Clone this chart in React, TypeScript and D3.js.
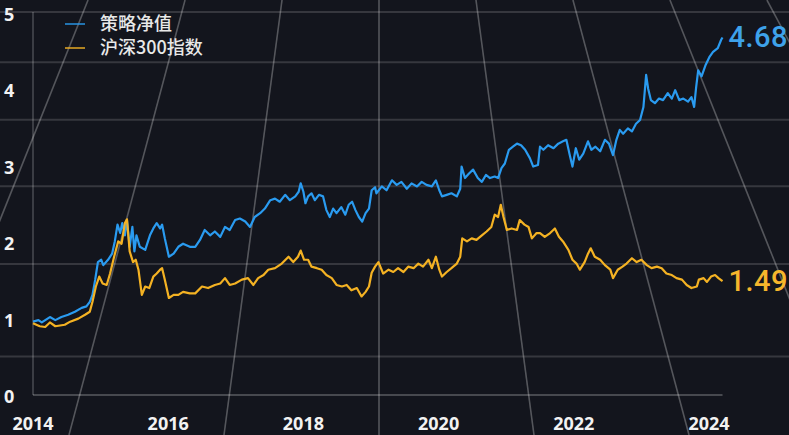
import * as d3 from 'd3';

// [year, value]
const strategy: [number, number][] = [
  [2014.00, 0.96], [2014.08, 0.98], [2014.13, 0.95], [2014.25, 1.02], [2014.33, 0.98], [2014.42, 1.02],
  [2014.52, 1.05], [2014.62, 1.09], [2014.72, 1.14], [2014.79, 1.16], [2014.84, 1.22], [2014.88, 1.31],
  [2014.92, 1.51], [2014.96, 1.74], [2015.01, 1.77], [2015.04, 1.70], [2015.11, 1.77], [2015.17, 1.85],
  [2015.21, 2.01], [2015.25, 2.23], [2015.29, 2.12], [2015.32, 2.25], [2015.36, 2.09], [2015.39, 2.29],
  [2015.43, 1.94], [2015.47, 2.20], [2015.50, 1.88], [2015.53, 2.09], [2015.58, 1.94], [2015.66, 1.90],
  [2015.73, 2.09], [2015.78, 2.18], [2015.83, 2.25], [2015.88, 2.18], [2015.91, 2.23], [2015.95, 2.05],
  [2016.01, 1.81], [2016.08, 1.85], [2016.15, 1.94], [2016.22, 1.98], [2016.32, 1.94], [2016.40, 1.94],
  [2016.47, 2.03], [2016.54, 2.16], [2016.62, 2.09], [2016.69, 2.14], [2016.77, 2.07], [2016.84, 2.20],
  [2016.91, 2.16], [2016.99, 2.29], [2017.06, 2.31], [2017.14, 2.27], [2017.21, 2.20], [2017.28, 2.33],
  [2017.36, 2.38], [2017.43, 2.44], [2017.51, 2.55], [2017.58, 2.57], [2017.65, 2.53], [2017.73, 2.62],
  [2017.80, 2.55], [2017.88, 2.60], [2017.93, 2.66], [2017.96, 2.77], [2018.00, 2.66], [2018.03, 2.51],
  [2018.07, 2.60], [2018.12, 2.64], [2018.17, 2.55], [2018.23, 2.62], [2018.29, 2.60], [2018.34, 2.42],
  [2018.39, 2.33], [2018.44, 2.44], [2018.49, 2.38], [2018.56, 2.46], [2018.62, 2.36], [2018.67, 2.49],
  [2018.72, 2.53], [2018.77, 2.42], [2018.82, 2.33], [2018.87, 2.27], [2018.92, 2.38], [2018.97, 2.44],
  [2019.01, 2.68], [2019.06, 2.72], [2019.08, 2.64], [2019.16, 2.73], [2019.23, 2.68], [2019.31, 2.81],
  [2019.38, 2.75], [2019.45, 2.79], [2019.53, 2.70], [2019.60, 2.77], [2019.68, 2.73], [2019.75, 2.79],
  [2019.82, 2.75], [2019.90, 2.73], [2019.96, 2.81], [2020.01, 2.68], [2020.05, 2.60], [2020.12, 2.62],
  [2020.19, 2.64], [2020.27, 2.60], [2020.32, 2.70], [2020.34, 2.99], [2020.39, 2.84], [2020.45, 2.90],
  [2020.51, 2.95], [2020.58, 2.84], [2020.64, 2.79], [2020.70, 2.88], [2020.76, 2.84], [2020.83, 2.86],
  [2020.88, 2.84], [2020.93, 2.97], [2020.98, 3.03], [2021.04, 3.21], [2021.10, 3.25], [2021.16, 3.29],
  [2021.22, 3.27], [2021.28, 3.21], [2021.35, 3.10], [2021.40, 2.99], [2021.47, 3.01], [2021.50, 3.25],
  [2021.55, 3.21], [2021.62, 3.27], [2021.70, 3.23], [2021.77, 3.29], [2021.84, 3.32], [2021.89, 3.34],
  [2021.94, 3.14], [2021.98, 2.99], [2022.03, 3.23], [2022.08, 3.08], [2022.14, 3.16], [2022.21, 3.32],
  [2022.26, 3.21], [2022.32, 3.25], [2022.39, 3.19], [2022.46, 3.34], [2022.52, 3.29], [2022.58, 3.14],
  [2022.63, 3.34], [2022.68, 3.47], [2022.73, 3.42], [2022.80, 3.49], [2022.86, 3.45], [2022.92, 3.55],
  [2022.98, 3.60], [2023.03, 3.77], [2023.07, 4.19], [2023.10, 4.01], [2023.14, 3.86], [2023.20, 3.82],
  [2023.26, 3.88], [2023.32, 3.86], [2023.39, 3.95], [2023.45, 3.88], [2023.50, 3.99], [2023.56, 3.86],
  [2023.62, 3.88], [2023.69, 3.84], [2023.74, 3.90], [2023.78, 3.77], [2023.81, 4.03], [2023.84, 4.25],
  [2023.89, 4.17], [2023.95, 4.32], [2024.01, 4.43], [2024.06, 4.49], [2024.13, 4.54], [2024.18, 4.65],
  [2024.20, 4.68],
];

const csi300: [number, number][] = [
  [2014.00, 0.94], [2014.10, 0.90], [2014.18, 0.89], [2014.25, 0.95], [2014.33, 0.90], [2014.47, 0.92],
  [2014.55, 0.96], [2014.67, 1.00], [2014.77, 1.05], [2014.84, 1.09], [2014.88, 1.22], [2014.93, 1.42],
  [2014.98, 1.55], [2015.03, 1.46], [2015.09, 1.44], [2015.14, 1.59], [2015.20, 1.81], [2015.26, 2.01],
  [2015.31, 1.98], [2015.36, 2.25], [2015.39, 2.30], [2015.43, 1.88], [2015.48, 1.74], [2015.52, 1.77],
  [2015.56, 1.64], [2015.61, 1.31], [2015.66, 1.42], [2015.72, 1.40], [2015.78, 1.55], [2015.83, 1.59],
  [2015.88, 1.64], [2015.91, 1.66], [2015.95, 1.51], [2016.01, 1.27], [2016.08, 1.31], [2016.15, 1.31],
  [2016.22, 1.35], [2016.32, 1.33], [2016.40, 1.33], [2016.50, 1.42], [2016.59, 1.40], [2016.69, 1.44],
  [2016.77, 1.46], [2016.84, 1.53], [2016.91, 1.44], [2016.99, 1.46], [2017.09, 1.51], [2017.18, 1.53],
  [2017.26, 1.44], [2017.33, 1.53], [2017.41, 1.57], [2017.48, 1.64], [2017.58, 1.66], [2017.68, 1.72],
  [2017.78, 1.81], [2017.85, 1.74], [2017.92, 1.81], [2017.96, 1.89], [2018.01, 1.77], [2018.07, 1.77],
  [2018.12, 1.68], [2018.20, 1.66], [2018.27, 1.64], [2018.34, 1.57], [2018.42, 1.53], [2018.49, 1.44],
  [2018.57, 1.42], [2018.64, 1.44], [2018.71, 1.37], [2018.79, 1.40], [2018.86, 1.29], [2018.92, 1.35],
  [2018.97, 1.42], [2019.01, 1.60], [2019.06, 1.68], [2019.11, 1.74], [2019.18, 1.59], [2019.26, 1.64],
  [2019.33, 1.61], [2019.40, 1.66], [2019.48, 1.61], [2019.55, 1.68], [2019.63, 1.66], [2019.70, 1.72],
  [2019.77, 1.68], [2019.85, 1.77], [2019.90, 1.66], [2019.96, 1.81], [2020.01, 1.64], [2020.05, 1.55],
  [2020.12, 1.61], [2020.19, 1.66], [2020.27, 1.72], [2020.32, 1.81], [2020.35, 2.05], [2020.42, 2.01],
  [2020.49, 2.05], [2020.56, 2.03], [2020.64, 2.09], [2020.71, 2.14], [2020.78, 2.20], [2020.83, 2.36],
  [2020.88, 2.33], [2020.92, 2.49], [2020.96, 2.33], [2021.01, 2.16], [2021.08, 2.18], [2021.16, 2.16],
  [2021.20, 2.29], [2021.27, 2.23], [2021.33, 2.20], [2021.38, 2.05], [2021.45, 2.12], [2021.50, 2.12],
  [2021.57, 2.07], [2021.65, 2.12], [2021.72, 2.18], [2021.78, 2.07], [2021.84, 2.01], [2021.92, 1.90],
  [2021.98, 1.77], [2022.04, 1.72], [2022.09, 1.64], [2022.16, 1.74], [2022.21, 1.85], [2022.25, 1.92],
  [2022.31, 1.81], [2022.39, 1.77], [2022.46, 1.70], [2022.54, 1.64], [2022.58, 1.53], [2022.65, 1.64],
  [2022.72, 1.68], [2022.78, 1.72], [2022.86, 1.79], [2022.93, 1.74], [2023.00, 1.77], [2023.08, 1.70],
  [2023.15, 1.66], [2023.23, 1.68], [2023.30, 1.66], [2023.37, 1.59], [2023.45, 1.57], [2023.52, 1.53],
  [2023.60, 1.51], [2023.67, 1.44], [2023.74, 1.40], [2023.82, 1.42], [2023.85, 1.51], [2023.92, 1.53],
  [2023.97, 1.48], [2024.03, 1.55], [2024.09, 1.57], [2024.14, 1.53], [2024.20, 1.49],
];

const xTicks = [2014, 2016, 2018, 2020, 2022, 2024];
const yTicks = [0, 1, 2, 3, 4, 5];
const seriesNames = ['策略净值', '沪深300指数'];
const seriesColors = ['#2a9bf0', '#f4b223'];
const labelColors = ['#3ea2ea', '#f6b62c'];

const W = 789;
const H = 435;

export default function App() {
  const x = d3.scaleLinear().domain([2014, 2024]).range([33, 709]);
  const y = d3.scaleLinear().domain([0, 5]).range([395, 13]);
  const line = d3.line<[number, number]>()
    .x(d => x(d[0]))
    .y(d => y(d[1]));

  // perspective backdrop grid (vanishing point above the frame)
  const vx = 379, vy = -727, spread = 0.1334;
  const slanted = d3.range(-4, 5).map(k => ({
    x1: vx + k * spread * (0 - vy), y1: 0,
    x2: vx + k * spread * (H - vy), y2: H,
  }));
  const horiz = d3.range(0, 6).map(j => vy + 1 / (0.001353 - 0.000086 * j));

  const series = [strategy, csi300];
  const xEnd = x(2024.2);

  return (
    <svg width={W} height={H} style={{ position: 'fixed', left: 0, top: 0, background: '#13151d' }}>
      <rect width={W} height={H} fill="#13151d" />
      <g>
        {horiz.map((hy, i) => (
          <line key={'h' + i} x1={0} x2={W} y1={hy} y2={hy} stroke="rgba(255,255,255,0.15)" strokeWidth={2} />
        ))}
        {slanted.map((s, i) => (
          <line key={'s' + i} {...s} stroke="rgba(255,255,255,0.28)" strokeWidth={1.6} />
        ))}
      </g>

      <line x1={x(2014)} x2={x(2014)} y1={12} y2={y(0)} stroke="rgba(255,255,255,0.35)" strokeWidth={1} />
      <line x1={x(2014)} x2={xEnd} y1={y(0)} y2={y(0)} stroke="rgba(255,255,255,0.45)" strokeWidth={1} />

      {yTicks.map(t => (
        <text key={'y' + t} x={4} y={y(t) + 8} fill="#f2f2f2" fontFamily="'Noto Sans', sans-serif"
          fontWeight={700} fontSize={18}>{t}</text>
      ))}
      {xTicks.map(t => (
        <text key={'x' + t} x={x(t)} y={430} textAnchor="middle" fill="#f2f2f2"
          fontFamily="'Noto Sans', sans-serif" fontWeight={700} fontSize={18}>{t}</text>
      ))}

      {series.map((s, i) => (
        <path key={'p' + i} d={line(s) || ''} fill="none" stroke={seriesColors[i]} strokeWidth={2.2}
          strokeLinejoin="round" />
      ))}

      {series.map((s, i) => {
        const last = s[s.length - 1];
        return (
          <text key={'l' + i} x={x(last[0]) + 6} y={y(last[1]) + 10} fill={labelColors[i]}
            fontFamily="Roboto, sans-serif" fontWeight={500} fontSize={29} letterSpacing={0.5}>
            {last[1].toFixed(2)}
          </text>
        );
      })}

      {seriesNames.map((n, i) => (
        <g key={'lg' + i} transform={`translate(65,${24 + i * 24})`}>
          <line x1={0} x2={20} y1={0} y2={0} stroke={seriesColors[i]} strokeOpacity={0.7} strokeWidth={2} />
          <text x={35} y={6} fill="#e8e8e8" fontFamily="'Noto Sans CJK SC', sans-serif" fontSize={18}
            fontWeight={500}>{n}</text>
        </g>
      ))}
    </svg>
  );
}
